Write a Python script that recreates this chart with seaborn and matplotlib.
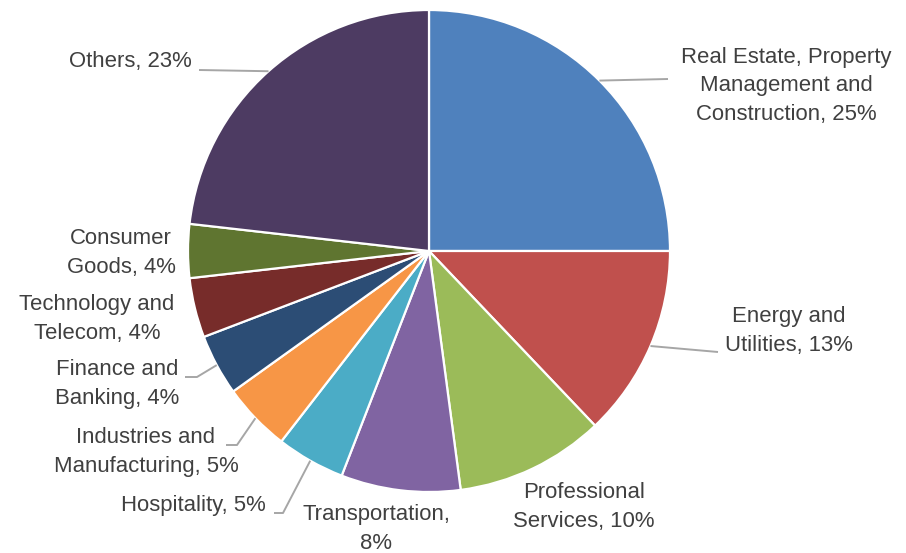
import numpy as np
import matplotlib
matplotlib.use("Agg")
import matplotlib.pyplot as plt
import seaborn as sns

# Share of clients by industry (%)
industries = [
    "Real Estate, Property\nManagement and\nConstruction",
    "Energy and\nUtilities",
    "Professional\nServices",
    "Transportation,",
    "Hospitality",
    "Industries and\nManufacturing",
    "Finance and\nBanking",
    "Technology and\nTelecom",
    "Consumer\nGoods",
    "Others",
]
shares = [25.0, 12.9, 10.0, 8.0, 4.6, 4.6, 4.1, 4.0, 3.6, 23.2]
slice_colors = ["#4F81BD", "#C0504D", "#9BBB59", "#8064A2", "#4BACC6",
                "#F79646", "#2C4D75", "#772C2A", "#5F7530", "#4D3B62"]

sns.set_theme(style="white")
plt.rcParams["font.family"] = ["Liberation Sans", "DejaVu Sans"]

W, H = 906, 553
fig = plt.figure(figsize=(W / 100, H / 100), dpi=100)
ax = fig.add_axes([0, 0, 1, 1])


def Y(py):
    """Convert a top-down pixel row into the axis' bottom-up coordinate."""
    return H - py


cx, cy, r = 429, Y(251), 241
palette = sns.color_palette(slice_colors)
wedges, _ = ax.pie(
    shares, colors=palette, startangle=90, counterclock=False,
    center=(cx, cy), radius=r,
    wedgeprops=dict(edgecolor="white", linewidth=1.6),
)
ax.set_xlim(0, W)
ax.set_ylim(0, H)
ax.set_aspect("equal")
ax.axis("off")

# label placement: (x, y) centre of the text block, plus leader-line route
layout = {
    0: dict(xy=(786, 86), leader=[(668, 79)]),
    1: dict(xy=(789, 331), leader=[(718, 352)]),
    2: dict(xy=(584, 507), leader=None),
    3: dict(xy=(376, 529), leader=None),
    4: dict(xy=(193, 505), leader=[(283, 513), (274, 513)]),
    5: dict(xy=(146, 452), leader=[(237, 445), (226, 445)]),
    6: dict(xy=(117, 384), leader=[(197, 377), (185, 377)]),
    7: dict(xy=(97, 319), leader=None),
    8: dict(xy=(121, 253), leader=None),
    9: dict(xy=(130, 62), leader=[(199, 70)]),
}

text_color = "#404040"
line_color = "#A6A6A6"
for i, (name, val, w) in enumerate(zip(industries, shares, wedges)):
    spec = layout[i]
    if name.endswith(","):
        label = f"{name}\n{val:.0f}%"
    else:
        label = f"{name}, {val:.0f}%"
    tx, ty = spec["xy"]
    ax.text(tx, Y(ty), label, ha="center", va="center", fontsize=15.9,
            color=text_color, linespacing=1.45, multialignment="center")
    if spec["leader"]:
        mid = np.deg2rad((w.theta1 + w.theta2) / 2)
        pts = [(cx + r * np.cos(mid), cy + r * np.sin(mid))]
        pts += [(px, Y(py)) for px, py in spec["leader"]]
        xs, ys = zip(*pts)
        ax.plot(xs, ys, color=line_color, linewidth=1.4,
                solid_capstyle="butt")

fig.savefig("out.png", dpi=100)
